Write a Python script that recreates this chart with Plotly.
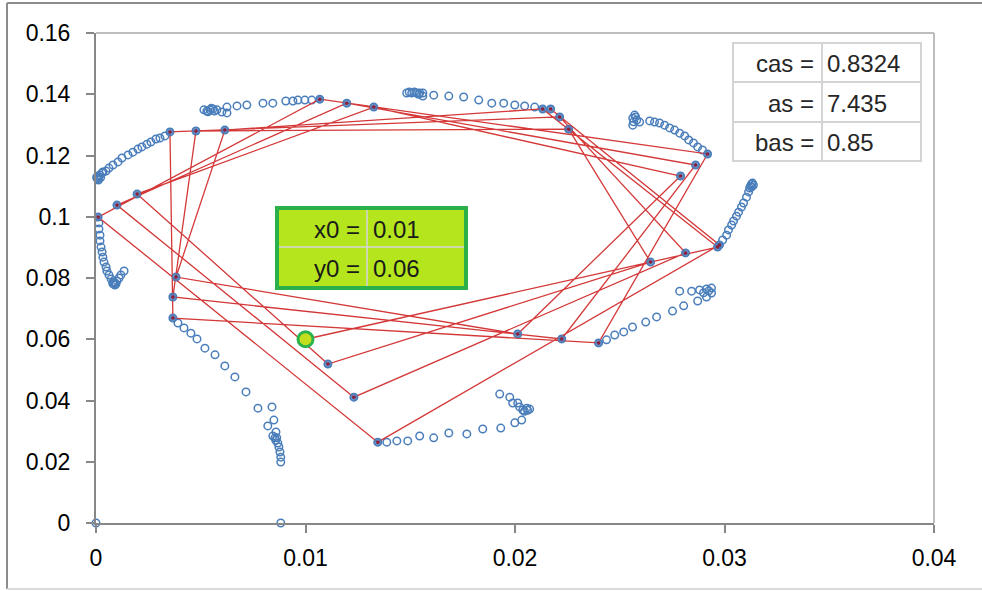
import plotly.graph_objects as go

# Parameters shown in the side tables
x0 = 0.01
y0 = 0.06
cas = 0.8324
as_value = 7.435
bas = 0.85

# First iterates of the map, joined by the red polyline (starts at x0, y0)
iter_x = [0.02967, 0.02132, 0.00615, 0.00382, 0.02013, 0.02790, 0.01326, 0.00196, 0.01107,
          0.02647, 0.02256, 0.00477, 0.00367, 0.02223, 0.02862, 0.01197, 0.00100, 0.01231,
          0.02814, 0.02213, 0.00353, 0.00367, 0.02399, 0.02919, 0.01068, 0.00010, 0.01345,
          0.02976, 0.02170]
iter_y = [0.0901, 0.1352, 0.1283, 0.0803, 0.0617, 0.1133, 0.1358, 0.1074, 0.0519,
          0.0852, 0.1286, 0.1280, 0.0738, 0.0601, 0.1169, 0.1371, 0.1038, 0.0411,
          0.0882, 0.1326, 0.1277, 0.0669, 0.0588, 0.1205, 0.1384, 0.0999, 0.0264,
          0.0908, 0.1352]

# Later iterates, one branch per arm of the 9-cycle
arm_a_x = [0.00014, 0.00014, 0.00019, 0.00019, 0.00024, 0.00029, 0.00033, 0.00038, 0.00048, 0.00052,
           0.00062, 0.00072, 0.00081, 0.00086, 0.00091, 0.00086, 0.00095, 0.00100, 0.00110, 0.00119,
           0.00134, 0.00090, 0.00080]
arm_a_y = [0.0980, 0.0960, 0.0940, 0.0921, 0.0901, 0.0885, 0.0868, 0.0852, 0.0836, 0.0823,
           0.0810, 0.0797, 0.0787, 0.0780, 0.0784, 0.0787, 0.0780, 0.0790, 0.0800, 0.0810,
           0.0823, 0.0777, 0.0782]

arm_b_x = [0.00329, 0.00305, 0.00286, 0.00262, 0.00243, 0.00219, 0.00200, 0.00176, 0.00153, 0.00124,
           0.00105, 0.00081, 0.00062, 0.00048, 0.00029, 0.00010, 0.00005, 0.00008, 0.00003, 0.00019,
           0.00033, 0.00012, 0.00022]
arm_b_y = [0.1264, 0.1257, 0.1254, 0.1244, 0.1237, 0.1228, 0.1221, 0.1211, 0.1202, 0.1192,
           0.1179, 0.1169, 0.1159, 0.1149, 0.1143, 0.1133, 0.1126, 0.1123, 0.1129, 0.1136,
           0.1146, 0.1120, 0.1128]

arm_c_x = [0.01030, 0.00997, 0.00964, 0.00940, 0.00906, 0.00844, 0.00797, 0.00720, 0.00673, 0.00625,
           0.00601, 0.00625, 0.00529, 0.00544, 0.00558, 0.00577, 0.00515, 0.00535, 0.00565, 0.00550]
arm_c_y = [0.1381, 0.1381, 0.1381, 0.1378, 0.1378, 0.1371, 0.1371, 0.1365, 0.1362, 0.1358,
           0.1342, 0.1339, 0.1345, 0.1349, 0.1352, 0.1349, 0.1349, 0.1343, 0.1345, 0.1354]

arm_d_x = [0.02094, 0.02046, 0.01999, 0.01946, 0.01889, 0.01827, 0.01755, 0.01684, 0.01612, 0.01560,
           0.01560, 0.01483, 0.01507, 0.01531, 0.01545, 0.01495, 0.01520, 0.01540]
arm_d_y = [0.1358, 0.1362, 0.1365, 0.1371, 0.1371, 0.1381, 0.1391, 0.1394, 0.1397, 0.1394,
           0.1404, 0.1404, 0.1404, 0.1404, 0.1404, 0.1407, 0.1407, 0.1400]

arm_e_x = [0.02895, 0.02872, 0.02852, 0.02829, 0.02810, 0.02786, 0.02762, 0.02738, 0.02714, 0.02690,
           0.02666, 0.02643, 0.02595, 0.02581, 0.02562, 0.02562, 0.02571, 0.02566, 0.02576]
arm_e_y = [0.1218, 0.1228, 0.1241, 0.1251, 0.1264, 0.1273, 0.1283, 0.1290, 0.1299, 0.1306,
           0.1309, 0.1313, 0.1309, 0.1316, 0.1322, 0.1299, 0.1332, 0.1310, 0.1326]

arm_f_x = [0.02991, 0.03010, 0.03019, 0.03034, 0.03043, 0.03057, 0.03067, 0.03081, 0.03091, 0.03105,
           0.03115, 0.03129, 0.03134, 0.03120, 0.03129, 0.03138, 0.03124]
arm_f_y = [0.0924, 0.0940, 0.0957, 0.0973, 0.0986, 0.1002, 0.1015, 0.1032, 0.1045, 0.1064,
           0.1081, 0.1097, 0.1110, 0.1094, 0.1107, 0.1103, 0.1100]

arm_g_x = [0.02437, 0.02476, 0.02519, 0.02561, 0.02624, 0.02676, 0.02752, 0.02805, 0.02872, 0.02914,
           0.02938, 0.02938, 0.02914, 0.02881, 0.02843, 0.02786, 0.02925, 0.02900]
arm_g_y = [0.0598, 0.0614, 0.0624, 0.0640, 0.0656, 0.0673, 0.0692, 0.0709, 0.0725, 0.0738,
           0.0751, 0.0767, 0.0764, 0.0761, 0.0757, 0.0757, 0.0758, 0.0752]

arm_h_x = [0.01388, 0.01436, 0.01488, 0.01545, 0.01612, 0.01684, 0.01770, 0.01846, 0.01932, 0.01999,
           0.02032, 0.02037, 0.02056, 0.02070, 0.02022, 0.02013, 0.01989, 0.01975, 0.01927, 0.02045,
           0.02060]
arm_h_y = [0.0264, 0.0268, 0.0268, 0.0284, 0.0278, 0.0294, 0.0291, 0.0307, 0.0310, 0.0327,
           0.0336, 0.0369, 0.0375, 0.0372, 0.0379, 0.0392, 0.0392, 0.0411, 0.0421, 0.0365,
           0.0368]

arm_i_x = [0.00391, 0.00420, 0.00453, 0.00482, 0.00520, 0.00568, 0.00615, 0.00663, 0.00716, 0.00773,
           0.00820, 0.00840, 0.00849, 0.00859, 0.00863, 0.00868, 0.00873, 0.00878, 0.00882, 0.00882,
           0.00854, 0.00844, 0.00858]
arm_i_y = [0.0653, 0.0637, 0.0620, 0.0601, 0.0571, 0.0549, 0.0513, 0.0477, 0.0428, 0.0375,
           0.0317, 0.0379, 0.0336, 0.0297, 0.0278, 0.0261, 0.0248, 0.0232, 0.0215, 0.0199,
           0.0278, 0.0284, 0.0270]

# Rows that evaluated to zero
zero_x = [0.0, 0.00882]
zero_y = [0.0, 0.0]

x_ticks = [0, 0.01, 0.02, 0.03, 0.04]
x_tick_text = ["0", "0.01", "0.02", "0.03", "0.04"]
y_ticks = [0, 0.02, 0.04, 0.06, 0.08, 0.10, 0.12, 0.14, 0.16]
y_tick_text = ["0", "0.02", "0.04", "0.06", "0.08", "0.1", "0.12", "0.14", "0.16"]

# ---- figure geometry (pixels) ----
W, H = 982, 591
L, R, T, B = 96, 934, 33, 523


def fx(px):
    return (px - L) / (R - L)


def fy(py):
    return (B - py) / (B - T)


BLUE = "#4A7EBB"
RED = "rgb(212,56,56)"
FONT = "Liberation Sans"
TICK_SIZE = 23
TABLE_SIZE = 24

cloud_x = iter_x + arm_a_x + arm_b_x + arm_c_x + arm_d_x + arm_e_x + arm_f_x + arm_g_x + arm_h_x + arm_i_x + zero_x
cloud_y = iter_y + arm_a_y + arm_b_y + arm_c_y + arm_d_y + arm_e_y + arm_f_y + arm_g_y + arm_h_y + arm_i_y + zero_y

path_x = [x0] + iter_x
path_y = [y0] + iter_y

fig = go.Figure()

fig.add_trace(go.Scatter(
    x=cloud_x, y=cloud_y, mode="markers", cliponaxis=False, showlegend=False,
    marker=dict(symbol="circle-open", size=7.5, color=BLUE, line=dict(width=1.5, color=BLUE)),
))

fig.add_trace(go.Scatter(
    x=path_x, y=path_y, mode="lines", cliponaxis=False, showlegend=False,
    line=dict(color=RED, width=1.3),
))

fig.add_trace(go.Scatter(
    x=iter_x, y=iter_y, mode="markers", cliponaxis=False, showlegend=False,
    marker=dict(symbol="circle", size=8, color="rgba(74,126,187,0.85)", line=dict(width=0)),
))

fig.add_trace(go.Scatter(
    x=iter_x, y=iter_y, mode="markers", cliponaxis=False, showlegend=False,
    marker=dict(symbol="circle", size=3.5, color="#8E1F3A", line=dict(width=0)),
))

fig.add_trace(go.Scatter(
    x=[x0], y=[y0], mode="markers", cliponaxis=False, showlegend=False,
    marker=dict(symbol="circle", size=15, color="#C2DE1C", line=dict(width=3, color="#2BB24C")),
))

shapes = []
# outer chart frame
shapes.append(dict(type="line", xref="paper", yref="paper", x0=fx(7), x1=fx(982), y0=fy(3), y1=fy(3),
                   line=dict(color="#8C8C8C", width=2), layer="below"))
shapes.append(dict(type="line", xref="paper", yref="paper", x0=fx(7), x1=fx(7), y0=fy(3), y1=fy(589),
                   line=dict(color="#8C8C8C", width=2), layer="below"))
shapes.append(dict(type="line", xref="paper", yref="paper", x0=fx(7), x1=fx(982), y0=fy(589), y1=fy(589),
                   line=dict(color="#DADADA", width=2), layer="below"))
# plot-area border (top and right)
shapes.append(dict(type="line", xref="paper", yref="paper", x0=0, x1=1, y0=1, y1=1,
                   line=dict(color="#BDBDBD", width=2), layer="below"))
shapes.append(dict(type="line", xref="paper", yref="paper", x0=1, x1=1, y0=0, y1=1,
                   line=dict(color="#BDBDBD", width=2), layer="below"))

# parameter table (top right)
shapes.append(dict(type="rect", xref="paper", yref="paper", x0=fx(733), x1=fx(921), y0=fy(161), y1=fy(43),
                   line=dict(color="#D4D4D4", width=2), fillcolor="white", layer="above"))
for yy in (82, 122):
    shapes.append(dict(type="line", xref="paper", yref="paper", x0=fx(733), x1=fx(921), y0=fy(yy), y1=fy(yy),
                       line=dict(color="#D4D4D4", width=2), layer="above"))
shapes.append(dict(type="line", xref="paper", yref="paper", x0=fx(822), x1=fx(822), y0=fy(161), y1=fy(43),
                   line=dict(color="#D4D4D4", width=2), layer="above"))

# start-point table (green)
shapes.append(dict(type="rect", xref="paper", yref="paper", x0=fx(277), x1=fx(466), y0=fy(288), y1=fy(208),
                   line=dict(color="#2BB04A", width=4), fillcolor="#B5E61D", layer="above"))
shapes.append(dict(type="line", xref="paper", yref="paper", x0=fx(279), x1=fx(464), y0=fy(247), y1=fy(247),
                   line=dict(color="#D6D6D6", width=1.5), layer="above"))
shapes.append(dict(type="line", xref="paper", yref="paper", x0=fx(367), x1=fx(367), y0=fy(286), y1=fy(210),
                   line=dict(color="#D6D6D6", width=1.5), layer="above"))

annotations = []
param_rows = [("cas =", f"{cas:g}", 64), ("as =", f"{as_value:g}", 103), ("bas =", f"{bas:g}", 142)]
for label, value, yy in param_rows:
    annotations.append(dict(xref="paper", yref="paper", x=fx(816), y=fy(yy), text=label, showarrow=False,
                            xanchor="right", yanchor="middle",
                            font=dict(family=FONT, size=TABLE_SIZE, color="#262626")))
    annotations.append(dict(xref="paper", yref="paper", x=fx(825), y=fy(yy), text=value, showarrow=False,
                            xanchor="left", yanchor="middle",
                            font=dict(family=FONT, size=TABLE_SIZE, color="#262626")))

start_rows = [("x0 =", f"{x0:g}", 229), ("y0 =", f"{y0:g}", 268)]
for label, value, yy in start_rows:
    annotations.append(dict(xref="paper", yref="paper", x=fx(362), y=fy(yy), text=label, showarrow=False,
                            xanchor="right", yanchor="middle",
                            font=dict(family=FONT, size=TABLE_SIZE, color="#1A1A1A")))
    annotations.append(dict(xref="paper", yref="paper", x=fx(371), y=fy(yy), text=value, showarrow=False,
                            xanchor="left", yanchor="middle",
                            font=dict(family=FONT, size=TABLE_SIZE, color="#1A1A1A")))

fig.update_layout(
    width=W, height=H,
    margin=dict(l=L, r=W - R, t=T, b=H - B, pad=0),
    paper_bgcolor="white", plot_bgcolor="white",
    showlegend=False,
    shapes=shapes,
    annotations=annotations,
    xaxis=dict(range=[0, 0.04], tickvals=x_ticks, ticktext=x_tick_text, showgrid=False, zeroline=False,
               showline=True, linecolor="#878787", linewidth=2, ticks="outside", ticklen=8, tickwidth=2,
               tickcolor="#878787", tickfont=dict(family=FONT, size=TICK_SIZE, color="black"),
               ticklabelstandoff=5, fixedrange=True),
    yaxis=dict(range=[0, 0.16], tickvals=y_ticks, ticktext=y_tick_text, showgrid=False, zeroline=False,
               showline=True, linecolor="#878787", linewidth=2, ticks="outside", ticklen=8, tickwidth=2,
               tickcolor="#878787", tickfont=dict(family=FONT, size=TICK_SIZE, color="black"),
               ticklabelstandoff=11, fixedrange=True),
)

fig.write_html("out.html")
